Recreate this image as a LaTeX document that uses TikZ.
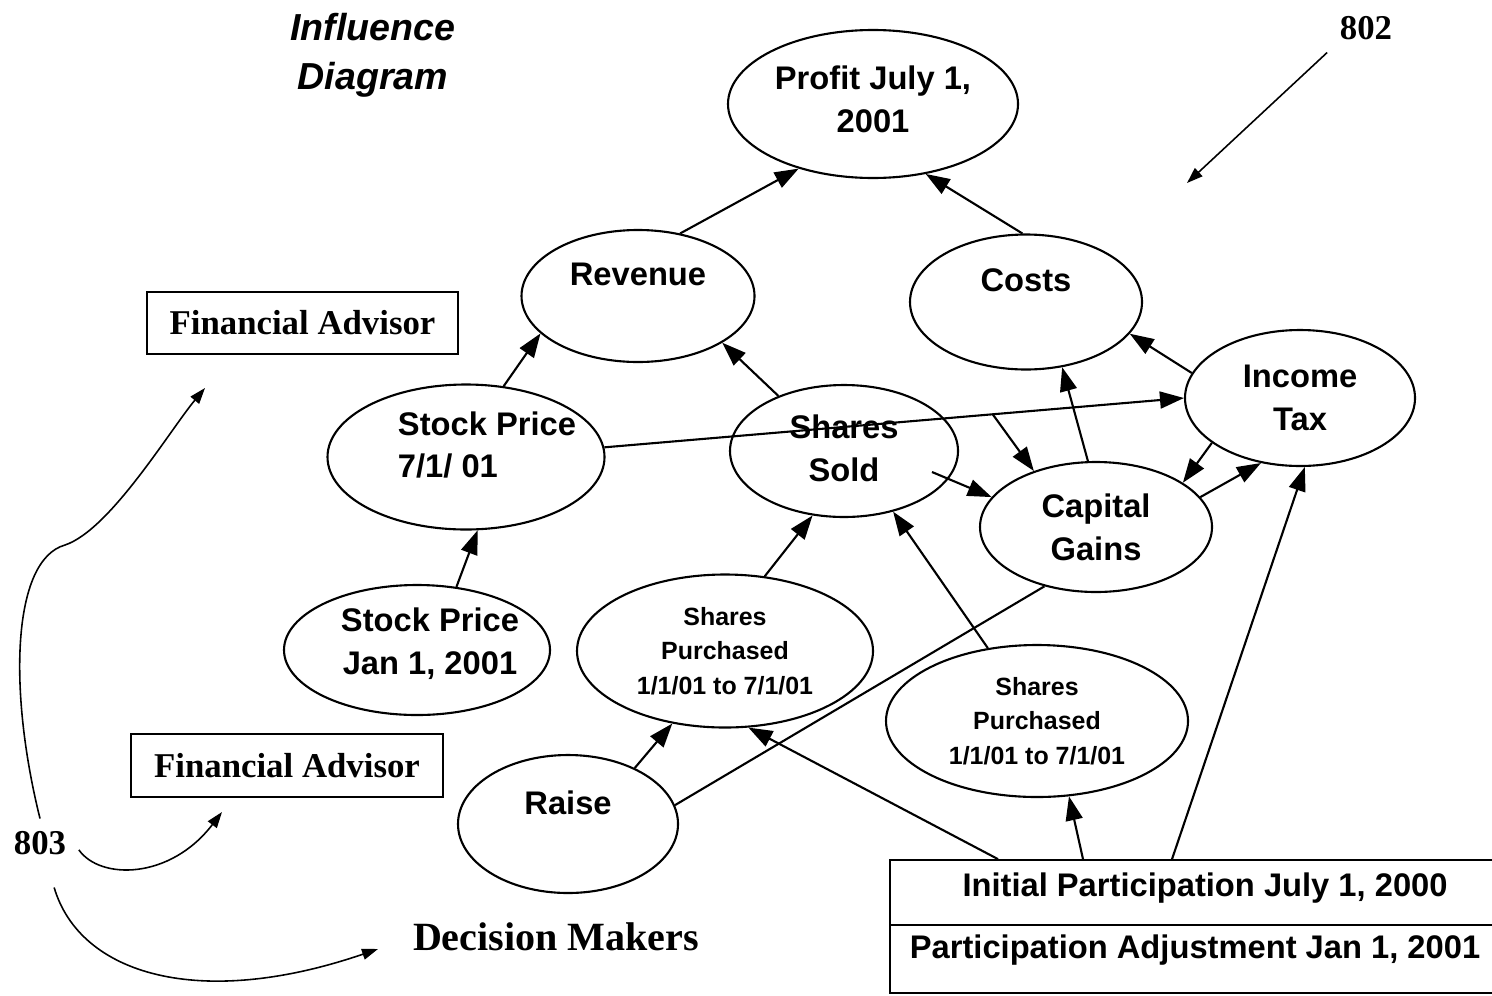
\documentclass[tikz,border=0pt]{standalone}
\usepackage{fontspec}
\setmainfont{Liberation Serif}
\setsansfont{Liberation Sans}
\usetikzlibrary{shapes.geometric,arrows.meta}

\begin{document}
\begin{tikzpicture}[x=0.1mm,y=-0.1mm,line width=0.6pt,>={Triangle[length=2.4mm,width=1.7mm]}]
        \tikzstyle{ev}=[draw,ellipse,inner sep=0pt]
        \tikzstyle{big}=[font=\sffamily\bfseries\fontsize{9.3}{12.2}\selectfont,align=center]
        \tikzstyle{small}=[font=\sffamily\bfseries\fontsize{7.1}{9.9}\selectfont,align=center]
        \tikzstyle{serif}=[font=\rmfamily\bfseries\fontsize{9.9}{12}\selectfont]
        \tikzstyle{box}=[draw,line width=0.5pt,serif,inner sep=0pt]
        \tikzstyle{curl}=[line width=0.45pt,-{Triangle[length=1.6mm,width=1.1mm]}]
        \useasboundingbox (0,0) rectangle (1492,995);
        \clip (0,0) rectangle (1492,995);

        % labels
        \node[font=\sffamily\bfseries\itshape\fontsize{10.7}{13.9}\selectfont,align=center] (title) at (373,55) {Influence\\Diagram};
        \node[serif,font=\rmfamily\bfseries\fontsize{11.4}{13}\selectfont] (dm) at (556,937) {Decision Makers};
        \node[serif] (n802) at (1366,28) {802};
        \node[serif] (n803) at (40,843) {803};

        % ellipses
        \node[ev,big,minimum width=29mm,minimum height=14.8mm,text depth=1mm] (profit) at (873,104) {Profit July 1,\\2001};
        \node[ev,big,minimum width=23.3mm,minimum height=13.2mm] (rev) at (638,296) {Revenue\\\mbox{}};
        \node[ev,big,minimum width=23.2mm,minimum height=13.5mm] (costs) at (1026,302) {Costs\\\mbox{}};
        \node[ev,big,minimum width=23mm,minimum height=13.6mm] (itax) at (1300,398) {Income\\Tax};
        \node[ev,minimum width=27.7mm,minimum height=14.5mm,label={[big,align=left,xshift=2.1mm,yshift=1.2mm]center:{Stock Price\\7/1/ 01}}] (sp7) at (466,457) {};
        \node[ev,big,minimum width=22.8mm,minimum height=13.2mm,text depth=0.6mm] (sold) at (844,451) {Shares\\Sold};
        \node[ev,big,minimum width=23.2mm,minimum height=13mm] (cap) at (1096,527) {Capital\\Gains};
        \node[ev,minimum width=26.6mm,minimum height=13mm,label={[big,xshift=1.3mm,yshift=0.6mm]center:{Stock Price\\Jan 1, 2001}}] (spj) at (417,650) {};
        \node[ev,small,minimum width=29.6mm,minimum height=15.3mm] (buy1) at (725,651) {Shares\\Purchased\\1/1/01 to 7/1/01};
        \node[ev,small,minimum width=30.2mm,minimum height=15.2mm] (buy2) at (1037,721) {Shares\\Purchased\\1/1/01 to 7/1/01};
        \node[ev,big,minimum width=22mm,minimum height=13.8mm] (raise) at (568,824) {Raise\\\mbox{}};

        % boxes
        \node[box,minimum width=31.1mm,minimum height=6.2mm] (fa1) at (302.5,323) {Financial Advisor};
        \node[box,minimum width=31.2mm,minimum height=6.3mm] (fa2) at (287,765.5) {Financial Advisor};
        \node[box,big,minimum width=61mm,minimum height=6.5mm,text depth=1.6mm] (init) at (1195,892.5) {\hspace*{2mm}Initial Participation July 1, 2000};
        \node[box,big,minimum width=61mm,minimum height=6.8mm,text depth=2.5mm] (adj) at (1195,959) {Participation Adjustment Jan 1, 2001};

        % influences
        \draw[->] (rev.56) -- (profit.221);
        \draw[->] (costs.93) -- (profit.-53);
        \draw[->] (sp7.62) -- (rev.201);
        \draw[->] (sold.140) -- (rev.-29);
        \draw[->] (sp7.4) -- coordinate[pos=0.67] (fork) (itax.180);
        \draw[->] (fork) -- (cap.138);
        \draw[->] (itax.167) -- (costs.-17);
        \draw[->] (cap.97) -- (costs.-61);
        \draw[->] ([shift={(88,21)}]sold.center) -- (cap.164);
        \draw[->] (itax.207) -- (cap.27);
        \draw[->] (cap.16) -- (itax.239);
        \draw[->] ([xshift=-2.3mm]init.north) -- (itax.-86);
        \draw[->] ([xshift=-11.2mm]init.north) -- (buy2.-67);
        \draw[->] ([xshift=-19.7mm]init.north) -- (buy1.-73);
        \draw[->] (buy2.124) -- (sold.-51);
        \draw[->] (buy1.62) -- (sold.244);
        \draw[->] (spj.58) -- (sp7.-81);
        \draw[->] (raise.40) -- (buy1.234);
        \draw (raise.10) -- (cap.229);

        % reference arrows
        \coordinate (tip802) at (1187,183);
        \coordinate (fa1tip) at (205,388);
        \coordinate (fa2tip) at (222,812);
        \coordinate (dmtip) at (378,949);
        \draw[curl] (n802.south west) -- (tip802);
        \draw[curl] (n803.north) .. controls (8,690) and (12,560) .. (65,545) .. controls (110,530) and (170,430) .. (fa1tip);
        \draw[curl] (n803.-10) .. controls (100,880) and (170,880) .. (fa2tip);
        \draw[curl] ([yshift=-2mm]n803.-60) .. controls (80,975) and (200,1010) .. (dmtip);
    \end{tikzpicture}
\end{document}
